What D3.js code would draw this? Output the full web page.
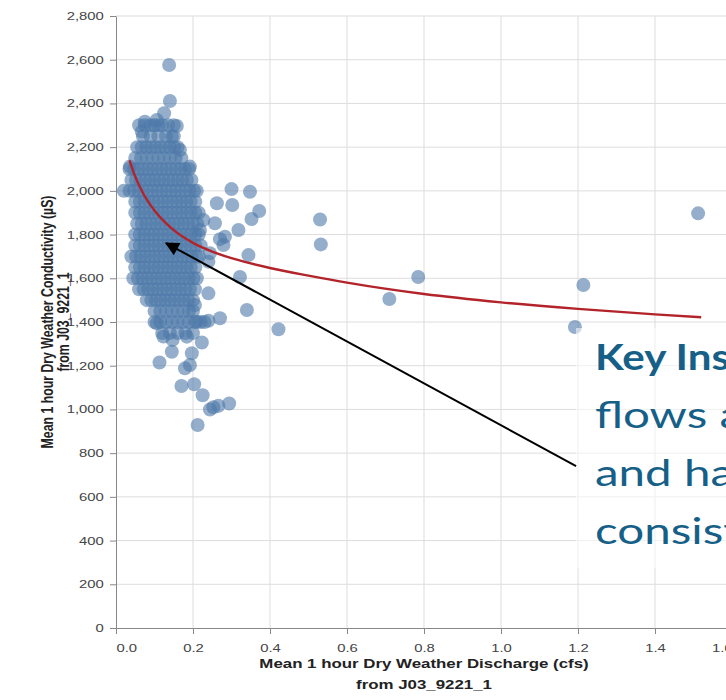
<!DOCTYPE html>
<html>
<head>
<meta charset="utf-8">
<script src="https://cdn.jsdelivr.net/npm/d3@7"></script>
<style>
  body { margin: 0; background: #fff; }
  svg { display: block; }
</style>
</head>
<body>
<div id="chart"></div>
<script>
// axis ticks
const xTicks = [0, 0.2, 0.4, 0.6, 0.8, 1.0, 1.2, 1.4, 1.6];
const yTicks = [0, 200, 400, 600, 800, 1000, 1200, 1400, 1600, 1800, 2000, 2200, 2400, 2600, 2800];

// dense cluster, conductivity readings fall on rows
const rowLevels = [2300, 2250, 2200, 2150, 2100, 2050, 2000, 1950, 1900, 1850, 1800, 1750, 1700, 1650, 1600, 1550, 1500, 1450, 1400, 1350];
const rowDischarge = [
    [0.06, 0.075, 0.09, 0.1, 0.11, 0.12, 0.135, 0.15],
    [0.07, 0.09, 0.11, 0.13, 0.15],
    [0.055, 0.067, 0.079, 0.091, 0.103, 0.115, 0.127, 0.139, 0.151, 0.16],
    [0.05, 0.065, 0.08, 0.095, 0.11, 0.125, 0.14, 0.155, 0.17],
    [0.035, 0.047, 0.059, 0.071, 0.083, 0.095, 0.107, 0.119, 0.131, 0.143, 0.155, 0.167, 0.179, 0.19],
    [0.04, 0.052, 0.064, 0.076, 0.088, 0.1, 0.112, 0.124, 0.136, 0.148, 0.16, 0.172, 0.184, 0.196],
    [0.02, 0.035, 0.047, 0.059, 0.071, 0.083, 0.095, 0.107, 0.119, 0.131, 0.143, 0.155, 0.167, 0.179, 0.191, 0.203, 0.21],
    [0.05, 0.062, 0.074, 0.086, 0.098, 0.11, 0.122, 0.134, 0.146, 0.158, 0.17, 0.182, 0.194, 0.206],
    [0.05, 0.062, 0.074, 0.086, 0.098, 0.11, 0.122, 0.134, 0.146, 0.158, 0.17, 0.182, 0.194, 0.206, 0.215],
    [0.055, 0.067, 0.079, 0.091, 0.103, 0.115, 0.127, 0.139, 0.151, 0.163, 0.175, 0.187, 0.199, 0.211],
    [0.05, 0.062, 0.074, 0.086, 0.098, 0.11, 0.122, 0.134, 0.146, 0.158, 0.17, 0.182, 0.194, 0.206, 0.215],
    [0.05, 0.062, 0.074, 0.086, 0.098, 0.11, 0.122, 0.134, 0.146, 0.158, 0.17, 0.182, 0.194, 0.206, 0.22],
    [0.04, 0.052, 0.064, 0.076, 0.088, 0.1, 0.112, 0.124, 0.136, 0.148, 0.16, 0.172, 0.184, 0.196, 0.208, 0.215],
    [0.05, 0.062, 0.074, 0.086, 0.098, 0.11, 0.122, 0.134, 0.146, 0.158, 0.17, 0.182, 0.194, 0.206],
    [0.045, 0.057, 0.069, 0.081, 0.093, 0.105, 0.117, 0.129, 0.141, 0.153, 0.165, 0.177, 0.189, 0.201, 0.21],
    [0.06, 0.072, 0.084, 0.096, 0.108, 0.12, 0.132, 0.144, 0.156, 0.168, 0.18, 0.192, 0.205],
    [0.08, 0.092, 0.104, 0.116, 0.128, 0.14, 0.152, 0.164, 0.176, 0.188, 0.2],
    [0.1, 0.115, 0.13, 0.145, 0.16, 0.175, 0.19, 0.2],
    [0.1, 0.115, 0.13, 0.145, 0.16, 0.175, 0.19, 0.205, 0.22, 0.23],
    [0.12, 0.14, 0.16, 0.18, 0.2]
];

// the looser points around and away from the cluster [discharge, conductivity]
const scatterPoints = [
    [0.138, 2576], [0.14, 2411], [0.125, 2355], [0.158, 2297], [0.075, 2316], [0.067, 2271],
    [0.106, 2324], [0.145, 2248], [0.192, 2111], [0.166, 2187], [0.036, 2111],
    [0.3, 2008], [0.348, 1996], [0.262, 1943], [0.302, 1935], [0.372, 1908], [0.352, 1871],
    [0.227, 1867], [0.257, 1852], [0.318, 1821], [0.283, 1790], [0.218, 1821], [0.27, 1779],
    [0.279, 1752], [0.344, 1706], [0.24, 1676], [0.244, 1715], [0.322, 1606], [0.24, 1531],
    [0.34, 1455], [0.27, 1417], [0.422, 1367], [0.223, 1306], [0.113, 1215], [0.192, 1203],
    [0.179, 1188], [0.145, 1264], [0.197, 1257], [0.147, 1318], [0.123, 1334], [0.106, 1394],
    [0.184, 1333], [0.17, 1107], [0.203, 1115], [0.225, 1065], [0.244, 1000], [0.253, 1010],
    [0.266, 1017], [0.294, 1027], [0.212, 929], [0.205, 1478], [0.21, 1401], [0.24, 1406],
    [0.53, 1869], [0.532, 1755], [0.71, 1505], [0.785, 1606], [1.192, 1377], [1.214, 1569], [1.512, 1897]
];

// fitted trend line
const fitDischarge = [0.035, 0.05, 0.07, 0.1, 0.15, 0.2, 0.25, 0.3, 0.35, 0.4, 0.5, 0.6, 0.8, 1.0, 1.2, 1.4, 1.52];
const fitConductivity = [2140, 2065, 1990, 1910, 1820, 1762, 1722, 1692, 1668, 1647, 1612, 1580, 1528, 1490, 1460, 1435, 1422];

// annotation
const noteLines = ['Key Insight', 'flows are', 'and have', 'consistent'];
const arrowFrom = [1.195, 741];
const arrowTo = [0.13, 1761];

const width = 726;
const height = 700;
const stretch = 1.35;
const fontFam = '"Liberation Sans", Arial, sans-serif';

const svg = d3.select('#chart')
    .append('svg')
    .attr('width', width)
    .attr('height', height);

const x = d3.scaleLinear().domain([0, 1.6]).range([116, 732]);
const y = d3.scaleLinear().domain([0, 2800]).range([628, 16]);

// grid
svg.append('g')
    .selectAll('line')
    .data(xTicks.slice(1))
    .enter()
    .append('line')
    .attr('x1', d => x(d)).attr('x2', d => x(d))
    .attr('y1', y(0)).attr('y2', y(2800))
    .attr('stroke', '#ddd');
svg.append('g')
    .selectAll('line')
    .data(yTicks.slice(1))
    .enter()
    .append('line')
    .attr('x1', x(0)).attr('x2', x(1.6))
    .attr('y1', d => y(d)).attr('y2', d => y(d))
    .attr('stroke', '#ddd');

// axes
const xAxis = svg.append('g')
    .attr('transform', `translate(0,${y(0)})`)
    .call(d3.axisBottom(x).tickValues(xTicks).tickFormat(d3.format('.1f')).tickSize(6).tickSizeOuter(0));
xAxis.selectAll('text')
    .attr('y', 24)
    .attr('dy', null)
    .attr('text-anchor', (d, i) => i === 0 ? 'start' : (i === xTicks.length - 1 ? 'end' : 'middle'))
    .attr('transform', `scale(${stretch},1)`);

const yAxis = svg.append('g')
    .attr('transform', `translate(${x(0)},0)`)
    .call(d3.axisLeft(y).tickValues(yTicks).tickFormat(d3.format(',')).tickSize(6).tickSizeOuter(0));
yAxis.selectAll('text')
    .attr('x', -9)
    .attr('transform', `scale(${stretch},1)`);

svg.selectAll('.domain').attr('stroke', '#888');
svg.selectAll('.tick line').attr('stroke', '#888');
svg.selectAll('.tick text')
    .attr('fill', '#444')
    .style('font-family', fontFam)
    .style('font-size', '11px');

// axis titles
const xTitle = svg.append('g')
    .attr('transform', `translate(${(x(0) + x(1.6)) / 2},0)`);
xTitle.selectAll('text')
    .data(['Mean 1 hour Dry Weather Discharge (cfs)', 'from J03_9221_1'])
    .enter()
    .append('text')
    .attr('transform', (d, i) => `translate(0,${668 + i * 21}) scale(${stretch},1)`)
    .attr('text-anchor', 'middle')
    .style('font-family', fontFam)
    .style('font-size', '12.5px')
    .style('font-weight', 'bold')
    .attr('fill', '#222')
    .text(d => d);

const yTitle = svg.append('g')
    .attr('transform', `translate(58,${(y(0) + y(2800)) / 2}) scale(${stretch},1) rotate(-90)`);
yTitle.selectAll('text')
    .data(['Mean 1 hour Dry Weather Conductivity (µS)', 'from J03_9221_1'])
    .enter()
    .append('text')
    .attr('y', (d, i) => -4 + i * 12)
    .attr('text-anchor', 'middle')
    .style('font-family', fontFam)
    .style('font-size', '12.3px')
    .style('font-weight', 'bold')
    .attr('fill', '#222')
    .text(d => d);

// points
const points = [];
rowLevels.forEach((lvl, i) => {
    rowDischarge[i].forEach(q => points.push([q, lvl]));
});
scatterPoints.forEach(p => points.push(p));

svg.append('g')
    .selectAll('circle')
    .data(points)
    .enter()
    .append('circle')
    .attr('cx', d => x(d[0]))
    .attr('cy', d => y(d[1]))
    .attr('r', 7)
    .attr('fill', '#4c78a8')
    .attr('fill-opacity', 0.6);

// trend line
const fit = fitDischarge.map((q, i) => [q, fitConductivity[i]]);
svg.append('path')
    .datum(fit)
    .attr('fill', 'none')
    .attr('stroke', '#b3232a')
    .attr('stroke-width', 2.4)
    .attr('d', d3.line().x(d => x(d[0])).y(d => y(d[1])).curve(d3.curveMonotoneX));

// annotation box + text
svg.append('rect')
    .attr('x', 576).attr('y', 328)
    .attr('width', 160).attr('height', 240)
    .attr('fill', '#fff')
    .attr('fill-opacity', 0.55);

svg.append('g')
    .selectAll('text')
    .data(noteLines)
    .enter()
    .append('text')
    .attr('transform', (d, i) => `translate(595,${370 + i * 58}) scale(${i === 0 ? 1.17 : 1.32},1)`)
    .style('font-family', 'Lato, "Open Sans", sans-serif')
    .style('font-size', '36px')
    .style('font-weight', (d, i) => i === 0 ? 'bold' : 'normal')
    .attr('fill', '#165f87')
    .text(d => d);

// arrow
svg.append('defs').append('marker')
    .attr('id', 'head')
    .attr('viewBox', '0 0 10 10')
    .attr('refX', 9).attr('refY', 5)
    .attr('markerWidth', 8).attr('markerHeight', 7)
    .attr('orient', 'auto')
    .append('path')
    .attr('d', 'M0,0L10,5L0,10Z')
    .attr('fill', '#000');

svg.append('line')
    .attr('x1', x(arrowFrom[0])).attr('y1', y(arrowFrom[1]))
    .attr('x2', x(arrowTo[0])).attr('y2', y(arrowTo[1]))
    .attr('stroke', '#000')
    .attr('stroke-width', 2)
    .attr('marker-end', 'url(#head)');
</script>
</body>
</html>
